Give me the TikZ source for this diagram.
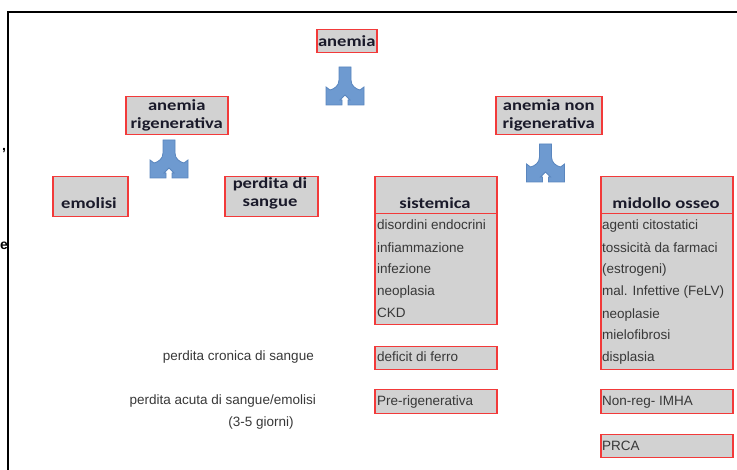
\documentclass[tikz,border=0pt]{standalone}
\usepackage{fontspec}
\setmainfont{Liberation Sans}
\newfontfamily\headfont[FakeStretch=1.2]{Carlito}
\definecolor{boxfill}{HTML}{D2D2D2}
\definecolor{boxline}{HTML}{F23A3A}
\definecolor{arrowfill}{HTML}{6E9AD0}
\definecolor{arrowline}{HTML}{5A86BE}
\definecolor{itemtext}{HTML}{383838}
\definecolor{headtext}{HTML}{1A1A2A}
\tikzset{
  box/.style={rectangle, draw=boxline, fill=boxfill, line width=1.5pt, inner sep=0pt, anchor=north west},
  head/.style={font=\headfont\bfseries\fontsize{15.5}{18}\selectfont, text=headtext, align=center, inner sep=0pt},
  item/.style={font=\fontsize{13.5}{16}\selectfont, text=itemtext, anchor=west, inner sep=0pt, text height=10pt, text depth=3pt},
  note/.style={item, anchor=east},
  splitarrow/.style={fill=arrowfill, draw=arrowline, line width=0.8pt, line join=miter},
  frame/.style={draw=black, line width=2pt}
}
\newcommand\splitarrowat[1]{%
  \draw[splitarrow, shift={(#1)}] (-6,0) -- (6,0) -- (6,13)
    .. controls (6,19) and (11,22) .. (15,23) -- (19,20) -- (19,38)
    -- (3,38) -- (3,33) -- (5,33) -- (0,28) -- (-5,33) -- (-3,33) -- (-3,38) -- (-19,38)
    -- (-19,20) -- (-15,23) .. controls (-11,22) and (-6,19) .. (-6,13) -- cycle;}
\begin{document}
\begin{tikzpicture}[x=1pt, y=-1pt]
\useasboundingbox (0,0) rectangle (737,470);
% frame
\coordinate (fbl) at (8,472);
\coordinate (ftl) at (8,12);
\coordinate (ftr) at (739,12);
\draw[frame] (fbl) -- (ftl) -- (ftr);
\node[font=\bfseries\fontsize{14}{16}\selectfont, inner sep=0pt] (comma) at (4,151) {,};
\node[font=\bfseries\fontsize{14}{16}\selectfont, inner sep=0pt] (cute) at (4,246) {e};

% boxes
\node[box, minimum width=60pt, minimum height=23pt] (anemia) at (316,29) {};
\node[box, minimum width=102pt, minimum height=38pt] (rig) at (125,96) {};
\node[box, minimum width=106pt, minimum height=38pt] (nonrig) at (495,96) {};
\node[box, minimum width=75pt, minimum height=40pt] (emolisi) at (52,176) {};
\node[box, minimum width=93pt, minimum height=40pt] (perdita) at (224,176) {};
\node[box, minimum width=122pt, minimum height=111pt] (sistlist) at (374,213) {};
\node[box, minimum width=122pt, minimum height=37pt] (sist) at (374,176) {};
\node[box, minimum width=122pt, minimum height=23pt] (deficit) at (374,346) {};
\node[box, minimum width=122pt, minimum height=24pt] (pre) at (374,389) {};
\node[box, minimum width=132pt, minimum height=156pt] (midlist) at (600,213) {};
\node[box, minimum width=132pt, minimum height=37pt] (mid) at (600,176) {};
\node[box, minimum width=132pt, minimum height=24pt] (nonreg) at (600,389) {};
\node[box, minimum width=132pt, minimum height=23pt] (prca) at (600,434) {};

% header texts
\node[head] (tanemia) at (anemia.center) {anemia};
\node[head] (trig) at (rig.center) {anemia\\rigenerativa};
\node[head] (tnonrig) at (nonrig.center) {anemia non\\rigenerativa};
\node[head] (temolisi) at (89,203) {emolisi};
\node[head] (tperdita) at (270,193) {perdita di\\sangue};
\node[head] (tsist) at (435,203) {sistemica};
\node[head] (tmid) at (666,203) {midollo osseo};

% sistemica items
\node[item] (s1) at (377,226) {disordini endocrini};
\node[item] (s2) at (377,249) {infiammazione};
\node[item] (s3) at (377,270) {infezione};
\node[item] (s4) at (377,292) {neoplasia};
\node[item] (s5) at (377,314) {CKD};
\node[item] (s6) at (377,358) {deficit di ferro};
\node[item] (s7) at (377,402) {Pre-rigenerativa};

% midollo items
\node[item] (m1) at (602,226) {agenti citostatici};
\node[item] (m2) at (602,249) {tossicità da farmaci};
\node[item] (m3) at (602,270) {(estrogeni)};
\node[item] (m4) at (602,292) {mal. Infettive (FeLV)};
\node[item] (m5) at (602,315) {neoplasie};
\node[item] (m6) at (602,336) {mielofibrosi};
\node[item] (m7) at (602,358) {displasia};
\node[item] (m8) at (602,402) {Non-reg- IMHA};
\node[item] (m9) at (602,447) {PRCA};

% side notes
\node[note] (n1) at (314,357) {perdita cronica di sangue};
\node[note] (n2) at (316,401) {perdita acuta di sangue/emolisi};
\node[item, anchor=center] (n3) at (261,423) {(3-5 giorni)};

% split arrows
\coordinate (a1) at (345,67);
\coordinate (a2) at (169,140);
\coordinate (a3) at (545.5,144);
\splitarrowat{a1}
\splitarrowat{a2}
\splitarrowat{a3}
\end{tikzpicture}
\end{document}
